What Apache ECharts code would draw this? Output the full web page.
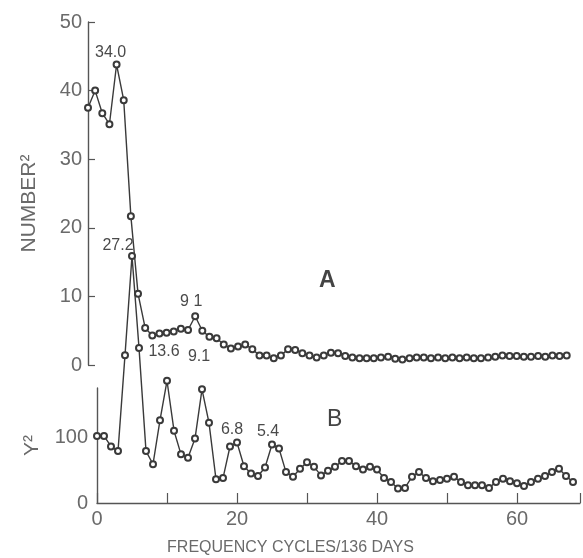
<!DOCTYPE html>
<html>
<head>
<meta charset="utf-8">
<script src="https://cdn.jsdelivr.net/npm/echarts@6/dist/echarts.min.js"></script>
<style>
  html, body { margin: 0; padding: 0; background: #ffffff; }
  #chart { width: 583px; height: 558px; }
</style>
</head>
<body>
<div id="chart"></div>
<script>
// Power spectra over frequency (cycles per 136 days)
// Series A: sunspot number squared, one value per frequency 0..67
const powerA = [
  37.5, 40.0, 36.7, 35.1, 43.8, 38.6, 21.7, 10.4, 5.4, 4.3,
  4.6, 4.7, 4.9, 5.3, 5.1, 7.1, 5.0, 4.1, 3.9, 3.0,
  2.4, 2.7, 3.0, 2.3, 1.4, 1.4, 1.0, 1.4, 2.3, 2.2,
  1.7, 1.4, 1.1, 1.4, 1.8, 1.7, 1.3, 1.1, 1.0, 1.0,
  1.0, 1.1, 1.2, 0.9, 0.8, 1.0, 1.1, 1.1, 1.0, 1.1,
  1.0, 1.1, 1.0, 1.1, 1.0, 1.0, 1.1, 1.2, 1.4, 1.3,
  1.3, 1.2, 1.2, 1.3, 1.2, 1.4, 1.3, 1.4
];
// Series B: Y squared, one value per frequency 0..68
const powerB = [
  102, 102, 86, 79, 225, 376, 236, 79, 59, 126,
  186, 110, 74, 69, 98, 173, 122, 36, 38, 86,
  92, 56, 45, 41, 54, 89, 83, 47, 40, 52,
  62, 55, 42, 49, 55, 64, 64, 56, 51, 55,
  51, 38, 32, 22, 23, 40, 47, 38, 33, 35,
  37, 40, 32, 27, 27, 27, 23, 32, 37, 33,
  30, 26, 32, 37, 41, 47, 52, 41, 32
];
// Peaks annotated with their period in days (136 / frequency)
const peaksA = [4, 15];
const peakLabelsA = ['34.0', '9 1'];
const peaksB = [5, 10, 15, 20, 25];
const peakLabelsB = ['27.2', '13.6', '9.1', '6.8', '5.4'];

const yTicksA = [0, 10, 20, 30, 40, 50];
const yTicksB = [0, 100];
const xTicks = [0, 20, 40, 60];

// label placement tweaks (pixels), keyed by frequency
const labelOffsets = {
  A4: [-6, 3], A15: [-4, 0],
  B5: [-14, 5], B10: [-3, -14], B15: [-3, -18], B20: [-5, 2], B25: [-4, 2]
};

const ink = '#3a3a3a';
const textGray = '#6a6a6a';

function buildData(values, peaks, labels, key) {
  return values.map(function (v, i) {
    const k = peaks.indexOf(i);
    if (k < 0) return [i, v];
    return {
      value: [i, v],
      label: {
        show: true,
        position: 'top',
        distance: 3,
        offset: labelOffsets[key + i] || [0, 0],
        formatter: labels[k],
        color: '#4a4a4a',
        fontSize: 16,
        fontFamily: 'Liberation Sans'
      }
    };
  });
}

const chart = echarts.init(document.getElementById('chart'), null, { renderer: 'canvas' });

const lineSeries = {
  type: 'line',
  symbol: 'emptyCircle',
  symbolSize: 6,
  clip: false,
  lineStyle: { color: ink, width: 1.4 },
  itemStyle: { color: ink, borderColor: ink, borderWidth: 1.2 },
  emphasis: { disabled: true },
  animation: false
};

chart.setOption({
  backgroundColor: '#ffffff',
  animation: false,
  title: [
    { text: 'A', left: 314, top: 264, textStyle: { fontSize: 23, fontWeight: 'bold', color: '#444', fontFamily: 'Liberation Sans' } },
    { text: 'B', left: 322, top: 403, textStyle: { fontSize: 23, fontWeight: 'normal', color: '#444', fontFamily: 'Liberation Sans' } }
  ],
  grid: [
    { left: 88, right: 2, top: 22, height: 343 },
    { left: 97, right: 3, top: 388, height: 115 }
  ],
  xAxis: [
    { gridIndex: 0, type: 'value', min: 0, max: 69, show: false },
    {
      gridIndex: 1, type: 'value', min: 0, max: 69, interval: 10,
      name: 'FREQUENCY CYCLES/136 DAYS',
      nameLocation: 'middle', nameGap: 37,
      nameTextStyle: { color: textGray, fontSize: 16, fontFamily: 'Liberation Sans', padding: [0, 96, 0, 0] },
      axisLine: { lineStyle: { color: '#555', width: 1.3 } },
      axisTick: { inside: true, length: 10, lineStyle: { color: '#555', width: 1.2 } },
      splitLine: { show: false },
      axisLabel: {
        color: textGray, fontSize: 20, fontFamily: 'Liberation Sans', margin: 6,
        formatter: function (v) { return xTicks.indexOf(v) >= 0 ? String(v) : ''; }
      }
    }
  ],
  yAxis: [
    {
      gridIndex: 0, type: 'value', min: 0, max: 50, interval: 10,
      name: 'NUMBER\u00B2', nameLocation: 'middle', nameGap: 48, nameRotate: 90,
      nameTextStyle: { color: textGray, fontSize: 21, fontFamily: 'Liberation Sans', padding: [0, 20, 0, 0] },
      axisLine: { show: true, lineStyle: { color: '#555', width: 1.4 } },
      axisTick: { inside: true, length: 7, lineStyle: { color: '#555', width: 1.2 } },
      splitLine: { show: false },
      axisLabel: {
        color: textGray, fontSize: 20, fontFamily: 'Liberation Sans', margin: 6,
        formatter: function (v) { return yTicksA.indexOf(v) >= 0 ? String(v) : ''; }
      }
    },
    {
      gridIndex: 1, type: 'value', min: 0, max: 175, interval: 100,
      name: 'Y\u00B2', nameLocation: 'middle', nameGap: 54, nameRotate: 90,
      nameTextStyle: { color: textGray, fontSize: 21, fontFamily: 'Liberation Sans' },
      axisLine: { show: true, lineStyle: { color: '#555', width: 1.4 } },
      axisTick: { show: false },
      splitLine: { show: false },
      axisLabel: {
        color: textGray, fontSize: 20, fontFamily: 'Liberation Sans', margin: 9,
        showMaxLabel: false,
        formatter: function (v) { return yTicksB.indexOf(v) >= 0 ? String(v) : ''; }
      }
    }
  ],
  series: [
    Object.assign({}, lineSeries, { xAxisIndex: 0, yAxisIndex: 0, data: buildData(powerA, peaksA, peakLabelsA, 'A') }),
    Object.assign({}, lineSeries, { xAxisIndex: 1, yAxisIndex: 1, data: buildData(powerB, peaksB, peakLabelsB, 'B') })
  ]
});
</script>
</body>
</html>
